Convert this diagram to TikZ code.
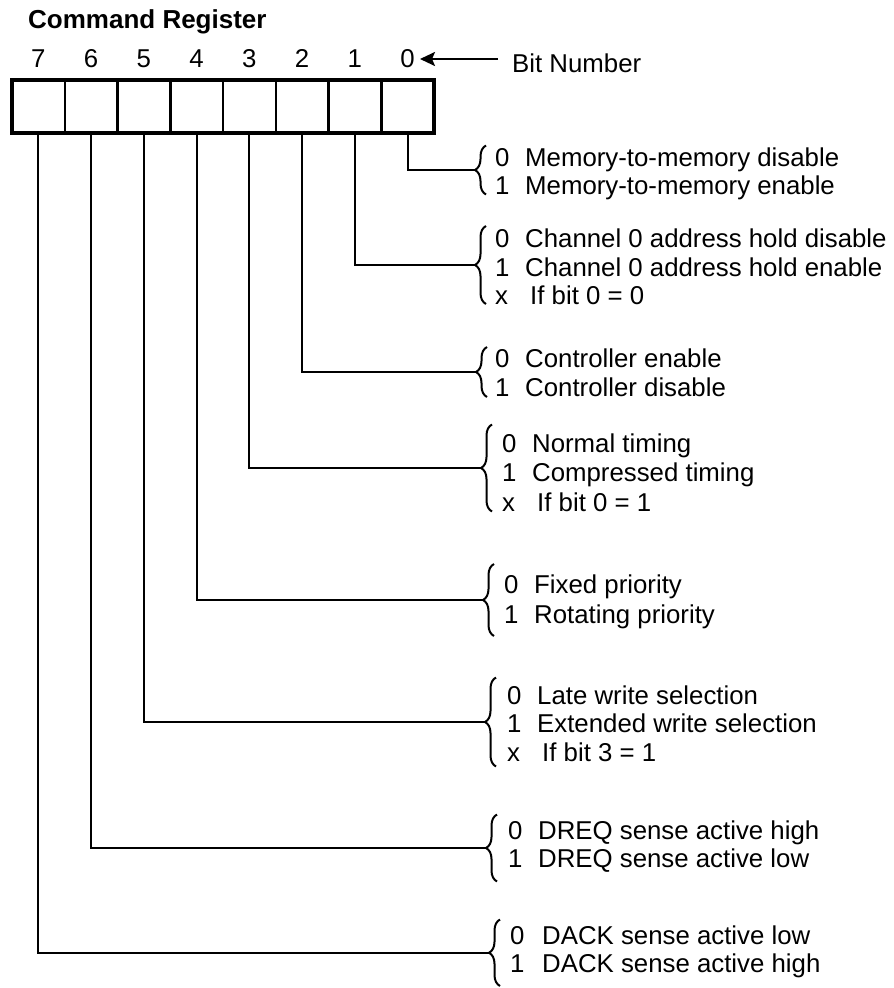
\documentclass[tikz,border=0pt]{standalone}
\usepackage{fontspec}
\setmainfont{Liberation Sans}
\usetikzlibrary{decorations.pathreplacing,arrows.meta}
\tikzset{
  cell/.style={draw, line width=2.5pt, minimum width=52.75pt, minimum height=53pt, inner sep=0pt, outer sep=0pt},
  wire/.style={line width=2.2pt},
  txt/.style={font=\fontsize{25.8}{28}\selectfont, inner sep=0pt},
  bitnum/.style={txt, anchor=base},
  optrow/.style={txt, anchor=base west},
  curly/.style={decorate, decoration={brace, amplitude=11pt}, line width=2pt},
}
\newcommand\opt[2]{\makebox[30pt][l]{#1}#2}
\newcommand\optx[2]{\makebox[35pt][l]{#1}#2}
\begin{document}
\begin{tikzpicture}[x=1pt,y=-1pt]
\useasboundingbox (0,0) rectangle (894,988);
\node[font=\bfseries\fontsize{26}{28}\selectfont, inner sep=0pt, anchor=base west] (title) at (28,28) {Command Register};
% register cells
\foreach \b in {0,...,7} \node[cell] (c\b) at ({434-52.75*(\b+0.5)},106.5) {};
\draw[line width=4.5pt] (c7.north west) rectangle (c0.south east);
% bit numbers
\coordinate (numrow) at (0,67);
\foreach \b in {0,...,7} \node[bitnum] (n\b) at (c\b |- numrow) {\b};
\node[optrow] (bitlabel) at (512,72) {Bit Number};
\coordinate (arr) at (0,59);
\draw[wire, -{Stealth[length=15pt,width=14pt,inset=3pt]}] ([xshift=-14pt]bitlabel.west |- arr) -- ([xshift=5pt]n0.east |- arr);
% braces (path x, top, bottom) and tips
\draw[curly] (486,194.5) -- (486,145.5);  \coordinate (t0) at (475,170);
\draw[curly] (486,304) -- (486,226);      \coordinate (t1) at (475,265);
\draw[curly] (487,397) -- (487,347);      \coordinate (t2) at (476,372);
\draw[curly] (492,511.5) -- (492,424.5);  \coordinate (t3) at (481,468);
\draw[curly] (494,636) -- (494,564);      \coordinate (t4) at (483,600);
\draw[curly] (496,766.5) -- (496,677.5);  \coordinate (t5) at (485,722);
\draw[curly] (497,881.5) -- (497,814.5);  \coordinate (t6) at (486,848);
\draw[curly] (500,986) -- (500,919.5);    \coordinate (t7) at (489,953);
% connectors
\foreach \b in {0,...,7} \draw[wire] (c\b.south) |- (t\b);
% option texts
\node[optrow] (r0a) at (495,166) {\opt{0}{Memory-to-memory disable}};
\node[optrow] (r0b) at (495,194) {\opt{1}{Memory-to-memory enable}};
\node[optrow] (r1a) at (495,247) {\opt{0}{Channel 0 address hold disable}};
\node[optrow] (r1b) at (495,276) {\opt{1}{Channel 0 address hold enable}};
\node[optrow] (r1c) at (495,304) {\optx{x}{If bit 0 = 0}};
\node[optrow] (r2a) at (495,367) {\opt{0}{Controller enable}};
\node[optrow] (r2b) at (495,396) {\opt{1}{Controller disable}};
\node[optrow] (r3a) at (502,452) {\opt{0}{Normal timing}};
\node[optrow] (r3b) at (502,481) {\opt{1}{Compressed timing}};
\node[optrow] (r3c) at (502,511) {\optx{x}{If bit 0 = 1}};
\node[optrow] (r4a) at (504,593) {\opt{0}{Fixed priority}};
\node[optrow] (r4b) at (504,623) {\opt{1}{Rotating priority}};
\node[optrow] (r5a) at (507,704) {\opt{0}{Late write selection}};
\node[optrow] (r5b) at (507,732) {\opt{1}{Extended write selection}};
\node[optrow] (r5c) at (507,761) {\optx{x}{If bit 3 = 1}};
\node[optrow] (r6a) at (508,839) {\opt{0}{DREQ sense active high}};
\node[optrow] (r6b) at (508,867) {\opt{1}{DREQ sense active low}};
\node[optrow] (r7a) at (510,944) {\makebox[32pt][l]{0}DACK sense active low};
\node[optrow] (r7b) at (510,972) {\makebox[32pt][l]{1}DACK sense active high};
\end{tikzpicture}
\end{document}
